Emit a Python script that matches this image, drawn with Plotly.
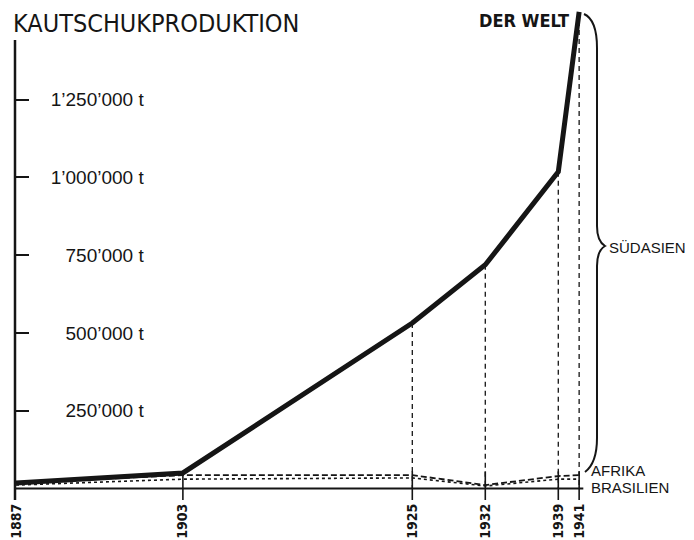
import plotly.graph_objects as go

# ---- data ----
years = [1887, 1903, 1925, 1932, 1939, 1941]
welt = [18000, 50000, 532000, 719000, 1018000, 1532000]
afrika = [18000, 43000, 43000, 11000, 40000, 43000]
brasilien = [11000, 30000, 34000, 8000, 30000, 30000]
drop_years = [1925, 1932, 1939, 1941]
ytick_vals = [250000, 500000, 750000, 1000000, 1250000]
ytick_text = ["250’000 t", "500’000 t", "750’000 t", "1’000’000 t", "1’250’000 t"]
title_text = "KAUTSCHUKPRODUKTION"
label_welt = "DER WELT"
label_sued = "SÜDASIEN"
label_afrika = "AFRIKA"
label_bras = "BRASILIEN"

INK = "#151515"
W, H = 694, 540
L, R, T, B = 15, 94, 6, 40
PW, PH = W - L - R, H - T - B
Y_MIN, Y_MAX = -37000, 1551000
X_MIN, X_MAX = 1886.9, 1943.0


def px(x):
    return (x - L) / PW


def py(y):
    return (H - B - y) / PH


fig = go.Figure()

# dashed drop lines from world values to baseline
dx, dy = [], []
for yr in drop_years:
    v = welt[years.index(yr)]
    dx += [yr, yr, None]
    dy += [v, 0, None]
fig.add_trace(go.Scatter(x=dx, y=dy, mode="lines",
                         line=dict(color=INK, width=1.3, dash="5px,4px"),
                         hoverinfo="skip", showlegend=False))

# tick crosses at each year
cx, cy = [], []
for yr in years[1:]:
    cx += [yr, yr, None]
    cy += [Y_MIN, 55000, None]
fig.add_trace(go.Scatter(x=cx, y=cy, mode="lines", yaxis="y2",
                         line=dict(color=INK, width=1.6),
                         hoverinfo="skip", showlegend=False))

# Brasilien (dotted)
fig.add_trace(go.Scatter(x=years, y=brasilien, mode="lines", name=label_bras,
                         line=dict(color=INK, width=1.6, dash="dot"),
                         showlegend=False))
# Afrika (dashed)
fig.add_trace(go.Scatter(x=years, y=afrika, mode="lines", name=label_afrika,
                         line=dict(color=INK, width=1.8, dash="6px,3px"),
                         showlegend=False))
# World
fig.add_trace(go.Scatter(x=years, y=welt, mode="lines", name=label_welt,
                         line=dict(color=INK, width=5),
                         showlegend=False))

shapes = []
# baseline
shapes.append(dict(type="line", xref="x", yref="y", x0=years[0] - 0.1, x1=years[-1] + 0.4,
                   y0=0, y1=0, line=dict(color=INK, width=2)))
# vertical axis line
shapes.append(dict(type="line", xref="paper", yref="y", x0=0, x1=0,
                   y0=Y_MIN, y1=1442000, line=dict(color=INK, width=2.5)))

# curly brace (decoration), defined in pixels
pts = [
    ("M", [(584, 14)]),
    ("C", [(593, 18), (597, 30), (597, 48)]),
    ("L", [(597, 226)]),
    ("C", [(597, 238), (600, 243), (605, 246)]),
    ("C", [(600, 249), (597, 254), (597, 266)]),
    ("L", [(597, 438)]),
    ("C", [(597, 456), (593, 466), (585, 472)]),
]
path = ""
for cmd, ps in pts:
    path += cmd + " " + " ".join(f"{px(a):.5f},{py(b):.5f}" for a, b in ps) + " "
shapes.append(dict(type="path", xref="paper", yref="paper", path=path.strip(),
                   line=dict(color=INK, width=2)))

ann_font = dict(family="Liberation Sans, Arial, sans-serif", size=15, color=INK)
annotations = [
    dict(text=title_text, xref="paper", yref="paper", x=px(11), y=py(23),
         xanchor="left", yanchor="middle", showarrow=False,
         font=dict(family="Liberation Sans Narrow, DejaVu Sans Condensed, sans-serif",
                   size=25, color=INK)),
    dict(text=f"<b>{label_welt}</b>", xref="paper", yref="paper", x=px(571), y=py(20),
         xanchor="right", yanchor="middle", showarrow=False,
         font=dict(family="Liberation Sans Narrow, DejaVu Sans Condensed, sans-serif",
                   size=18, color=INK)),
    dict(text=label_sued, xref="paper", yref="paper", x=px(607), y=py(247),
         xanchor="left", yanchor="middle", showarrow=False, font=ann_font),
    dict(text=label_afrika, xref="paper", yref="paper", x=px(589), y=py(470),
         xanchor="left", yanchor="middle", showarrow=False, font=ann_font),
    dict(text=label_bras, xref="paper", yref="paper", x=px(589), y=py(487),
         xanchor="left", yanchor="middle", showarrow=False, font=ann_font),
]

fig.update_layout(
    width=W, height=H,
    margin=dict(l=L, r=R, t=T, b=B, pad=0, autoexpand=False),
    paper_bgcolor="white", plot_bgcolor="white",
    showlegend=False,
    xaxis=dict(range=[X_MIN, X_MAX], showgrid=False, zeroline=False, showline=False,
               automargin=False,
               ticks="", tickvals=years, ticktext=[str(y) for y in years],
               tickangle=-90,
               tickfont=dict(family="Liberation Sans Narrow, DejaVu Sans Condensed, sans-serif",
                             size=14, color=INK, weight="bold")),
    yaxis=dict(range=[Y_MIN, Y_MAX], showgrid=False, zeroline=False, showline=False,
               automargin=False,
               ticks="inside", ticklen=14, tickwidth=2, tickcolor=INK,
               tickvals=ytick_vals, showticklabels=False),
    yaxis2=dict(range=[Y_MIN, Y_MAX], overlaying="y", anchor="free", position=0.220,
                automargin=False,
                side="left", showgrid=False, zeroline=False, showline=False, ticks="",
                tickvals=ytick_vals, ticktext=ytick_text,
                tickfont=dict(family="Liberation Sans, Arial, sans-serif", size=19, color=INK)),
    shapes=shapes,
    annotations=annotations,
)

fig.write_html(
    "out.html",
    config={"displayModeBar": False},
    post_script="document.body.style.margin='0';document.body.style.overflow='hidden';",
)
